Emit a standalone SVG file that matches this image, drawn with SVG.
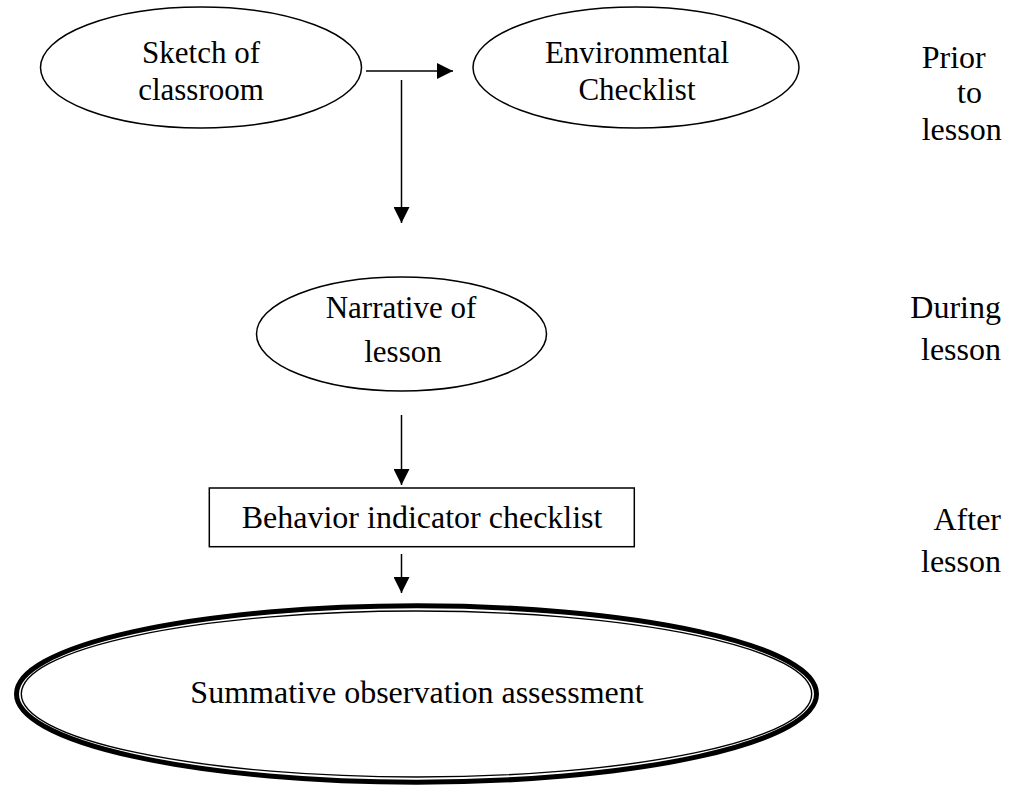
<svg xmlns="http://www.w3.org/2000/svg" width="1010" height="790" viewBox="0 0 1010 790">
<defs>
<style>
text{font-family:"Liberation Serif","Times New Roman",serif;font-size:32px;fill:#000}
.s{font-size:31px}
.c{text-anchor:middle}
.e{text-anchor:end}
.n{fill:#fff;stroke:#000;stroke-width:1.5}
.ln{stroke:#000;stroke-width:1.5;fill:none}
</style>
<marker id="ah" viewBox="0 0 16 16" refX="16" refY="8" markerWidth="16" markerHeight="16" markerUnits="userSpaceOnUse" orient="auto">
<path d="M0,0 L16,8 L0,16 Z" fill="#000"/>
</marker>
</defs>
<rect width="1010" height="790" fill="#fff"/>
<g id="connectors">
<line class="ln" x1="366" y1="71" x2="453" y2="71" marker-end="url(#ah)"/>
<line class="ln" x1="401.5" y1="80" x2="401.5" y2="223" marker-end="url(#ah)"/>
<line class="ln" x1="401.5" y1="415" x2="401.5" y2="485" marker-end="url(#ah)"/>
<line class="ln" x1="401.5" y1="554" x2="401.5" y2="593" marker-end="url(#ah)"/>
</g>
<g id="sketch">
<ellipse class="n" cx="201" cy="67.5" rx="160.5" ry="60.5"/>
<text class="c s" x="201" y="63">Sketch of</text>
<text class="c s" x="201" y="100">classroom</text>
</g>
<g id="environmental">
<ellipse class="n" cx="636" cy="67.5" rx="163" ry="60.5"/>
<text class="c s" x="637" y="63">Environmental</text>
<text class="c s" x="637" y="100">Checklist</text>
</g>
<g id="narrative">
<ellipse class="n" cx="401.5" cy="334" rx="145" ry="57"/>
<text class="c s" x="401" y="318">Narrative of</text>
<text class="c s" x="403" y="362">lesson</text>
</g>
<g id="behavior">
<rect class="n" x="209.3" y="488" width="425" height="58.7"/>
<text x="241.7" y="528">Behavior indicator checklist</text>
</g>
<g id="summative">
<ellipse cx="416.5" cy="694" rx="400" ry="88.2" fill="#fff" stroke="#000" stroke-width="5"/>
<ellipse cx="416.5" cy="694" rx="395.2" ry="83" fill="none" stroke="#000" stroke-width="1.4"/>
<text class="c" x="417" y="703">Summative observation assessment</text>
</g>
<g id="phase-labels">
<text x="921.7" y="68">Prior</text>
<text x="957" y="103">to</text>
<text x="921.7" y="140">lesson</text>
<text class="e" x="1001" y="318">During</text>
<text class="e" x="1001" y="360">lesson</text>
<text class="e" x="1001" y="530">After</text>
<text class="e" x="1001" y="572">lesson</text>
</g>
</svg>
